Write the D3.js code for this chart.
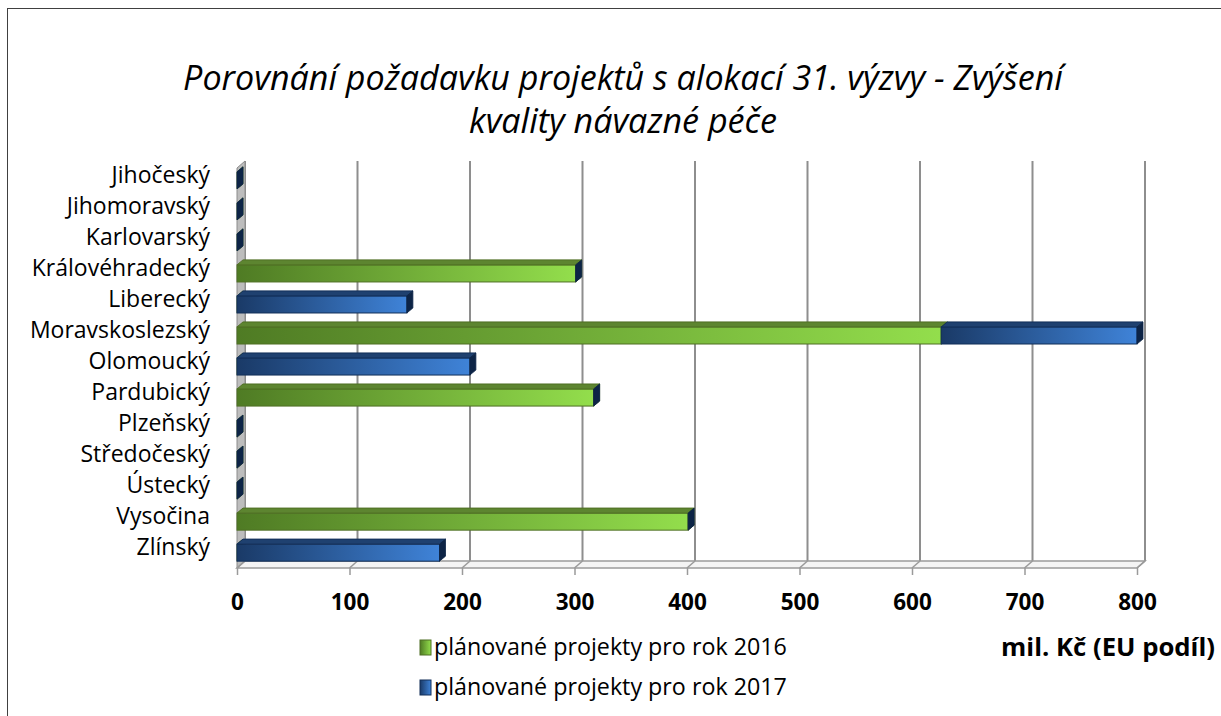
<!DOCTYPE html>
<html>
<head>
<meta charset="utf-8">
<script src="https://cdn.jsdelivr.net/npm/d3@7"></script>
<style>
  body { margin: 0; background: #fff; }
  svg { display: block; font-family: "Open Sans", sans-serif; }
</style>
</head>
<body>
<div id="chart"></div>
<script>
// Chart data
const categories = [
  "Jihočeský", "Jihomoravský", "Karlovarský ", "Královéhradecký", "Liberecký",
  "Moravskoslezský", "Olomoucký", "Pardubický", "Plzeňský", "Středočeský",
  "Ústecký", "Vysočina", "Zlínský",
];
const projects2016 = [0, 0, 0, 301, 0, 626, 0, 317, 0, 0, 0, 401, 0];
const projects2017 = [0, 0, 0, 0, 151, 174, 207, 0, 0, 0, 0, 0, 180];
const xTicks = [0, 100, 200, 300, 400, 500, 600, 700, 800];
const seriesNames = ["plánované projekty pro rok 2016", "plánované projekty pro rok 2017"];
const titleLines = ["Porovnání požadavku projektů s alokací 31. výzvy - Zvýšení", "kvality návazné péče"];
const unitLabel = "mil. Kč (EU podíl)";

const svgWidth = 1221, svgHeight = 716;
// front plane of the plot, back wall is shifted by depth
const plot = { left: 237, right: 1137, top: 165, bottom: 568 };
const depth = { dx: 8, dy: 7 };
const barDepth = { dx: 6, dy: 5 };

const svg = d3.select("#chart").append("svg")
  .attr("width", svgWidth)
  .attr("height", svgHeight);

// outer chart border (only left and top edges fall inside the picture)
svg.append("rect")
  .attr("x", 7.5).attr("y", 8.5)
  .attr("width", svgWidth + 20).attr("height", svgHeight + 20)
  .attr("fill", "none").attr("stroke", "#404040");

// gradients
const defs = svg.append("defs");
function gradient(id, c0, c1) {
  const g = defs.append("linearGradient").attr("id", id)
    .attr("x1", "0%").attr("x2", "100%").attr("y1", "0%").attr("y2", "0%");
  g.append("stop").attr("offset", "0%").attr("stop-color", c0);
  g.append("stop").attr("offset", "100%").attr("stop-color", c1);
}
gradient("g2016", "#4f7b24", "#93de4c");
gradient("g2017", "#1a3a67", "#3f83d8");

const styles = [
  { fill: "url(#g2016)", top: "#5d8530", cap: "#4a6e22", stroke: "#4f6f24" },
  { fill: "url(#g2017)", top: "#1f4170", cap: "#0d2446", stroke: "#122f58" },
];

// shrink/grow a text's font so it spans the wanted width
function fitWidth(sel, base, target) {
  sel.style("font-size", base + "px");
  const w = sel.node().getComputedTextLength();
  sel.style("font-size", (base * target / w).toFixed(2) + "px");
}

// scales
const x = d3.scaleLinear().domain([0, 800]).range([plot.left, plot.right]);
const y = d3.scaleBand().domain(categories).range([plot.top, plot.bottom]).paddingInner(0.45).paddingOuter(0.22);

// back wall gridlines
svg.append("g").selectAll("line")
  .data(xTicks)
  .join("line")
  .attr("x1", (d) => x(d) + depth.dx).attr("x2", (d) => x(d) + depth.dx)
  .attr("y1", plot.top - depth.dy + 3).attr("y2", plot.bottom - depth.dy)
  .attr("stroke", "#8e8e8e").attr("stroke-width", 2);

// left side wall
svg.append("path")
  .attr("d", `M${plot.left},${plot.top + 3} L${plot.left + depth.dx},${plot.top - depth.dy + 3} L${plot.left + depth.dx},${plot.bottom - depth.dy} L${plot.left},${plot.bottom} Z`)
  .attr("fill", "#bdbdbd").attr("stroke", "#8c8c8c").attr("stroke-width", 1);

// floor
svg.append("path")
  .attr("d", `M${plot.left},${plot.bottom} L${plot.left + depth.dx},${plot.bottom - depth.dy} L${plot.right + depth.dx},${plot.bottom - depth.dy} L${plot.right},${plot.bottom} Z`)
  .attr("fill", "#f4f4f4").attr("stroke", "#9a9a9a").attr("stroke-width", 1.5);
svg.append("g").selectAll("line")
  .data(xTicks)
  .join("line")
  .attr("x1", (d) => x(d)).attr("x2", (d) => x(d) + depth.dx)
  .attr("y1", plot.bottom).attr("y2", plot.bottom - depth.dy)
  .attr("stroke", "#9a9a9a").attr("stroke-width", 1.5);

// x axis
const xAxis = svg.append("g")
  .attr("transform", `translate(0,${plot.bottom})`)
  .call(d3.axisBottom(x).tickValues(xTicks).tickSize(7).tickPadding(19));
xAxis.select(".domain").remove();
xAxis.selectAll(".tick line").attr("stroke", "#9a9a9a").attr("stroke-width", 1.5);
xAxis.selectAll(".tick text")
  .attr("fill", "#000")
  .style("font-family", "'Open Sans', sans-serif")
  .style("font-size", "22.5px")
  .style("font-weight", "bold");

// y axis labels
const yAxis = svg.append("g")
  .attr("transform", `translate(${plot.left},-5)`)
  .call(d3.axisLeft(y).tickSize(0).tickPadding(27));
yAxis.select(".domain").remove();
yAxis.selectAll(".tick text")
  .attr("fill", "#000")
  .style("font-family", "'Open Sans', sans-serif")
  .style("font-size", "23px");

// stacked bars
const table = categories.map((c, i) => ({ cat: c, s2016: projects2016[i], s2017: projects2017[i] }));
const stacked = d3.stack().keys(["s2016", "s2017"])(table);

const layers = svg.append("g").selectAll("g")
  .data(stacked)
  .join("g");

layers.each(function (layer, li) {
  const st = styles[li];
  const g = d3.select(this);
  const bars = g.selectAll("g").data(layer).join("g");
  const bw = y.bandwidth();
  // front face
  bars.append("rect")
    .attr("x", (d) => x(d[0]))
    .attr("y", (d) => y(d.data.cat))
    .attr("width", (d) => x(d[1]) - x(d[0]))
    .attr("height", bw)
    .attr("fill", st.fill)
    .attr("stroke", (d) => (d[1] > d[0] ? st.stroke : "none"))
    .attr("stroke-width", 1);
  // top face
  bars.filter((d) => d[1] > d[0]).append("path")
    .attr("d", (d) => {
      const x0 = x(d[0]), x1 = x(d[1]), t = y(d.data.cat);
      return `M${x0},${t} L${x0 + barDepth.dx},${t - barDepth.dy} L${x1 + barDepth.dx},${t - barDepth.dy} L${x1},${t} Z`;
    })
    .attr("fill", st.top).attr("stroke", st.stroke).attr("stroke-width", 1);
  // end cap
  bars.append("path")
    .attr("d", (d) => {
      const x1 = x(d[1]), t = y(d.data.cat);
      return `M${x1},${t} L${x1 + barDepth.dx},${t - barDepth.dy} L${x1 + barDepth.dx},${t + bw - barDepth.dy} L${x1},${t + bw} Z`;
    })
    .attr("fill", st.cap).attr("stroke", st.cap).attr("stroke-width", 0.8);
});

// title
const title = svg.append("g")
  .style("font-style", "italic")
  .attr("fill", "#000");
const titleText = title.selectAll("text")
  .data(titleLines)
  .join("text")
  .attr("text-anchor", "middle")
  .attr("x", 623)
  .attr("y", (d, i) => 90 + i * 43)
  .text((d) => d);
fitWidth(titleText.filter((d, i) => i === 0), 31, 880);
titleText.filter((d, i) => i === 1).style("font-size", titleText.filter((d, i) => i === 0).style("font-size"));

// legend
const legend = svg.append("g").selectAll("g")
  .data(seriesNames)
  .join("g")
  .attr("transform", (d, i) => `translate(420,${640 + i * 40})`);
legend.append("rect")
  .attr("width", 11).attr("height", 15)
  .attr("fill", (d, i) => styles[i].fill)
  .attr("stroke", (d, i) => styles[i].stroke);
const legendText = legend.append("text")
  .attr("x", 14).attr("y", 15)
  .text((d) => d);
fitWidth(legendText.filter((d, i) => i === 0), 20, 353);
legendText.filter((d, i) => i === 1).style("font-size", legendText.filter((d, i) => i === 0).style("font-size"));

const unit = svg.append("text")
  .attr("x", 1215).attr("y", 656)
  .attr("text-anchor", "end")
  .style("font-weight", "bold")
  .text(unitLabel);
fitWidth(unit, 19, 214);
</script>
</body>
</html>
